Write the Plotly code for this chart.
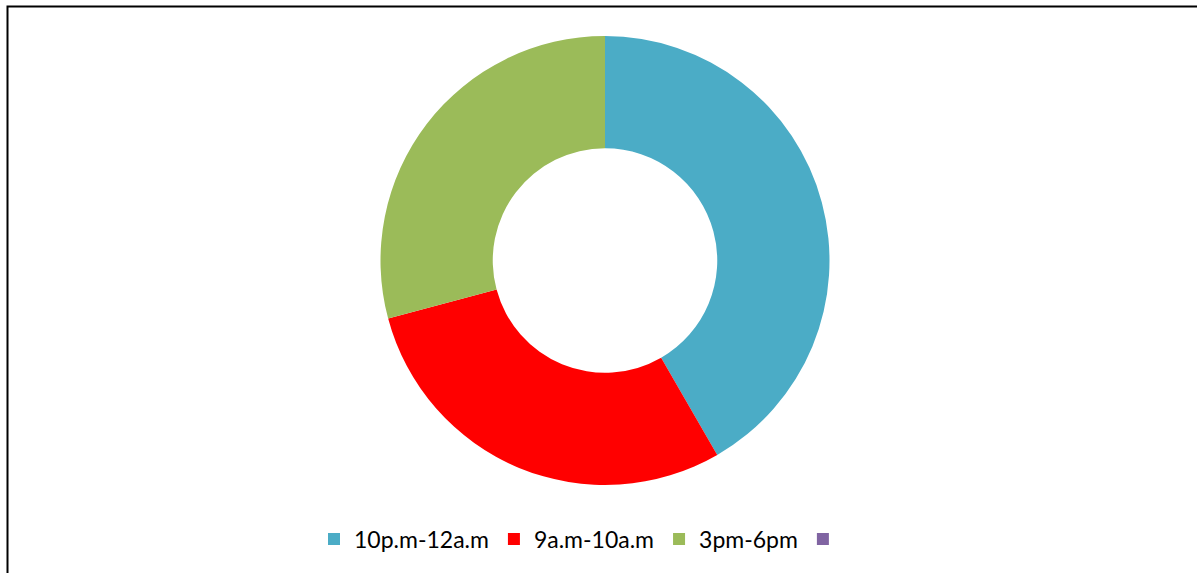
import plotly.graph_objects as go

labels = ["10p.m-12a.m", "9a.m-10a.m", "3pm-6pm", " "]
values = [10, 7, 7, 0]
colors = ["#4BACC6", "#FF0000", "#9BBB59", "#8064A2"]

W, H = 1197, 573
cx, cy, r = 605, 260.5, 224.5

fig = go.Figure(go.Pie(
    labels=labels,
    values=values,
    hole=0.5,
    sort=False,
    direction="clockwise",
    rotation=0,
    textinfo="none",
    hoverinfo="label+value+percent",
    marker=dict(colors=colors, line=dict(width=0)),
    domain=dict(x=[(cx - r) / W, (cx + r) / W], y=[1 - (cy + r) / H, 1 - (cy - r) / H]),
))

fig.update_layout(
    width=W, height=H,
    margin=dict(l=0, r=0, t=0, b=0),
    paper_bgcolor="white",
    plot_bgcolor="white",
    font=dict(family="Lato, Open Sans, sans-serif", size=23, color="#000000"),
    legend=dict(
        orientation="h",
        x=584 / W, xanchor="center",
        y=1 - 539 / H, yanchor="middle",
        font=dict(size=23),
        itemclick=False,
    ),
    shapes=[dict(
        type="rect", xref="paper", yref="paper",
        x0=7.5 / W, x1=1 + 20 / W, y0=-20 / H, y1=1 - 6.5 / H,
        line=dict(color="black", width=2),
        fillcolor="rgba(0,0,0,0)",
        layer="above",
    )],
)

fig.write_html("out.html")
